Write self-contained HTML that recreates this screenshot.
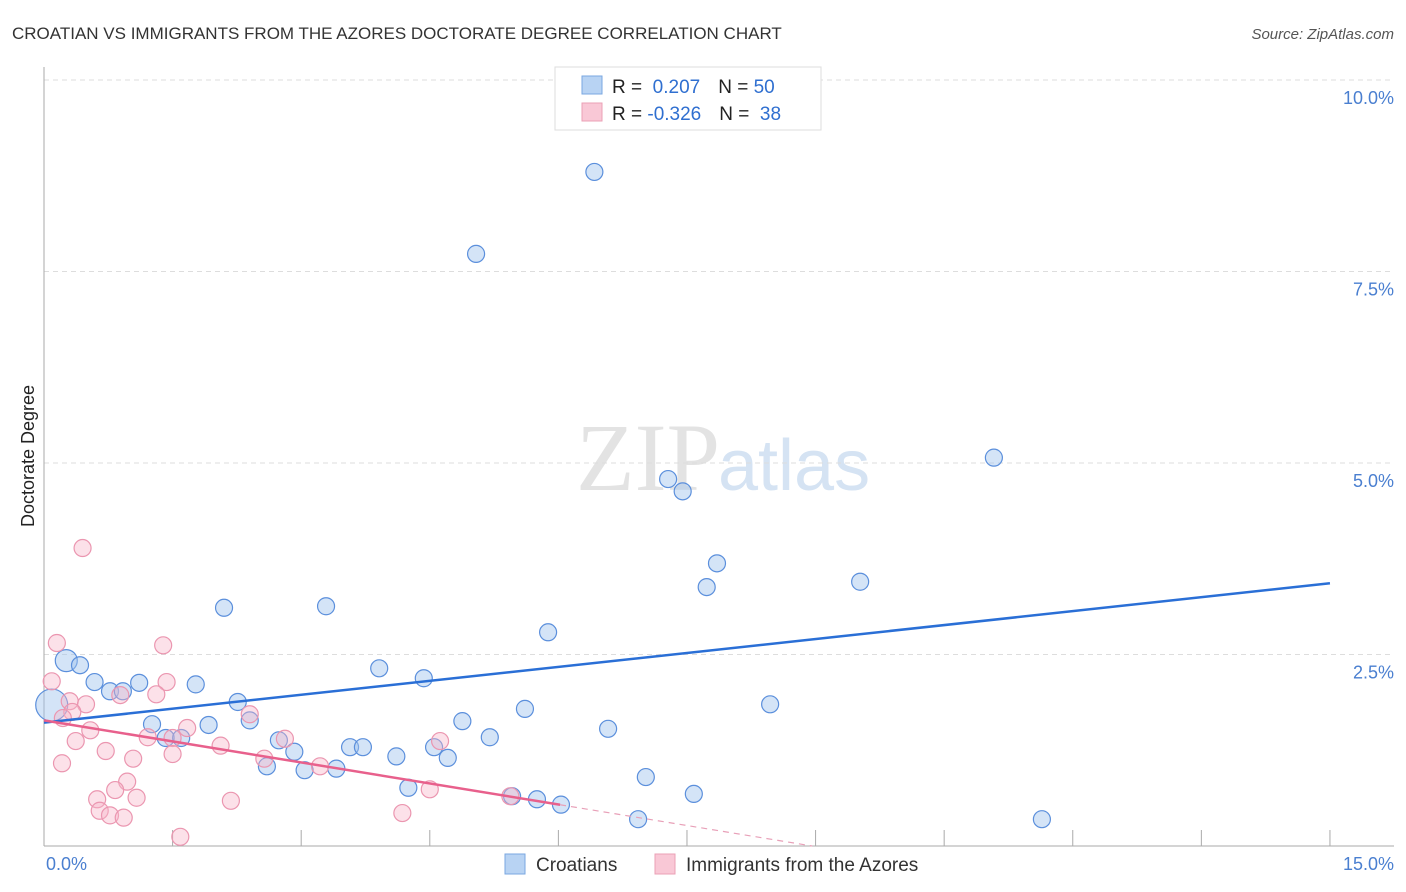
<!DOCTYPE html>
<html><head><meta charset="utf-8"><style>
body{margin:0;background:#fff;font-family:"Liberation Sans",sans-serif;}
svg{display:block}
</style></head><body>
<svg id="chart" width="1406" height="892">
<text x="12" y="39" font-size="17" fill="#333">CROATIAN VS IMMIGRANTS FROM THE AZORES DOCTORATE DEGREE CORRELATION CHART</text>
<text x="1394" y="39" font-size="15" fill="#555" text-anchor="end" font-style="italic">Source: ZipAtlas.com</text>
<text x="720" y="490" font-size="96" fill="#e3e3e3" text-anchor="end" font-family="Liberation Serif,serif">ZIP</text>
<text x="718" y="490" font-size="72" fill="#d5e3f3">atlas</text>
<g id="grid"></g>
<g id="axes"></g>
<g id="pts"></g>
<g id="lines"></g>
<text transform="translate(34,456) rotate(-90)" font-size="18" fill="#222" text-anchor="middle">Doctorate Degree</text>
<text x="46" y="870" font-size="18" fill="#4a7fd0">0.0%</text>
<text x="1394" y="870" font-size="18" fill="#4a7fd0" text-anchor="end">15.0%</text>
<g>
<rect x="555" y="67" width="266" height="63" fill="#fff" stroke="#ddd"/>
<rect x="582" y="76" width="20" height="18" fill="#b8d3f3" stroke="#7aa7e0"/>
<rect x="582" y="103" width="20" height="18" fill="#f9c8d6" stroke="#eba0b6"/>
<text x="612" y="93" font-size="19" fill="#222">R = <tspan fill="#2f6fd0">&#160;0.207</tspan><tspan dx="18" fill="#222">N = </tspan><tspan fill="#2f6fd0">50</tspan></text>
<text x="612" y="120" font-size="19" fill="#222">R = <tspan fill="#2f6fd0">-0.326</tspan><tspan dx="18" fill="#222">N = </tspan><tspan fill="#2f6fd0">&#160;38</tspan></text>
</g>
<g>
<rect x="505" y="854" width="20" height="20" fill="#b8d3f3" stroke="#7aa7e0"/>
<text x="536" y="871" font-size="19" fill="#333">Croatians</text>
<rect x="655" y="854" width="20" height="20" fill="#f9c8d6" stroke="#eba0b6"/>
<text x="686" y="871" font-size="19" fill="#333">Immigrants from the Azores</text>
</g>
</svg>
<script>
const yTicks=[2.5,5,7.5,10];
const yTickLabels=["2.5%","5.0%","7.5%","10.0%"];
const xTicks=[0,1.5,3,4.5,6,7.5,9,10.5,12,13.5,15];
const blueX=[6.42,5.04,11.08,7.28,7.45,7.85,7.73,9.52,2.10,3.29,5.88,0.26,0.42,3.91,4.43,0.59,1.11,1.77,0.77,0.92,2.26,0.09,8.47,5.61,1.26,1.92,2.40,4.88,6.58,1.42,1.60,2.74,5.20,3.57,3.72,2.92,4.11,4.55,4.71,2.60,3.04,3.41,4.25,7.02,7.58,5.46,5.75,6.03,6.93,11.64];
const blueY=[8.80,7.73,5.07,4.79,4.63,3.69,3.38,3.45,3.11,3.13,2.79,2.42,2.36,2.32,2.19,2.14,2.13,2.11,2.02,2.02,1.88,1.84,1.85,1.79,1.59,1.58,1.64,1.63,1.53,1.41,1.41,1.38,1.42,1.29,1.29,1.23,1.17,1.29,1.15,1.04,0.99,1.01,0.76,0.90,0.68,0.65,0.61,0.54,0.35,0.35];
const pinkX=[0.45,0.15,1.39,0.09,1.43,1.31,0.89,0.30,0.49,0.33,2.40,0.22,0.54,1.21,1.67,1.50,2.81,0.37,4.62,2.06,0.72,1.50,2.57,1.04,0.21,3.22,0.97,4.50,0.83,0.62,1.08,2.18,0.65,0.77,0.93,4.18,5.44,1.59];
const pinkY=[3.89,2.65,2.62,2.15,2.14,1.98,1.97,1.89,1.85,1.75,1.72,1.67,1.51,1.42,1.54,1.41,1.40,1.37,1.37,1.31,1.24,1.20,1.14,1.14,1.08,1.04,0.84,0.74,0.73,0.61,0.63,0.59,0.46,0.40,0.37,0.43,0.65,0.12];
const blueLine=[1.61,3.43]; // y at x=0 and x=15
const pinkLine=[1.64,-0.183]; // intercept, slope
const pinkSolidEnd=6.02;
const X=v=>44+v*85.73, Y=v=>846-v*76.6;
const NS="http://www.w3.org/2000/svg";
function mk(tag,parent,attrs){const e=document.createElementNS(NS,tag);for(const k in attrs)e.setAttribute(k,attrs[k]);document.getElementById(parent).appendChild(e);return e;}
yTicks.forEach((t,i)=>{
 const g=mk('line','grid',{x1:44,x2:1394,y1:Y(t),y2:Y(t),stroke:'#ddd','stroke-dasharray':'5,4'});
 
 
 const l=mk('text','grid',{x:1394,y:Y(t)+24,'font-size':18,fill:'#4a7fd0','text-anchor':'end'});
 l.textContent=yTickLabels[i];
 
 
});
const ax=mk('line','axes',{x1:44,x2:44,y1:67,y2:846,stroke:'#aaa'});


const bx=mk('line','axes',{x1:44,x2:1394,y1:846,y2:846,stroke:'#aaa'});


xTicks.forEach(t=>{
 const k=mk('line','axes',{x1:X(t),x2:X(t),y1:830,y2:846,stroke:'#aaa'});
 
 
});
blueX.forEach((v,i)=>{
 const r=i==21?16:(i==11?11:8.5);
 const c=mk('circle','pts',{cx:X(v),cy:Y(blueY[i]),r:r,fill:'rgba(160,196,238,0.45)',stroke:'#5b8fdc','stroke-width':1.2});
 
 
});
pinkX.forEach((v,i)=>{
 const c=mk('circle','pts',{cx:X(v),cy:Y(pinkY[i]),r:8.5,fill:'rgba(247,180,200,0.4)',stroke:'#eb96b0','stroke-width':1.2});
 
 
});
const bl=mk('line','lines',{x1:X(0),y1:Y(blueLine[0]),x2:X(15),y2:Y(blueLine[1]),stroke:'#2a6fd6','stroke-width':2.5});


const pe=pinkLine[0]+pinkLine[1]*pinkSolidEnd;
const pl=mk('line','lines',{x1:X(0),y1:Y(pinkLine[0]),x2:X(pinkSolidEnd),y2:Y(pe),stroke:'#e8608c','stroke-width':2.5});


const zx=-pinkLine[0]/pinkLine[1];
const pd=mk('line','lines',{x1:X(pinkSolidEnd),y1:Y(pe),x2:X(zx),y2:Y(0),stroke:'#e8a0b8','stroke-width':1.2,'stroke-dasharray':'6,5'});


</script>
</body></html>
